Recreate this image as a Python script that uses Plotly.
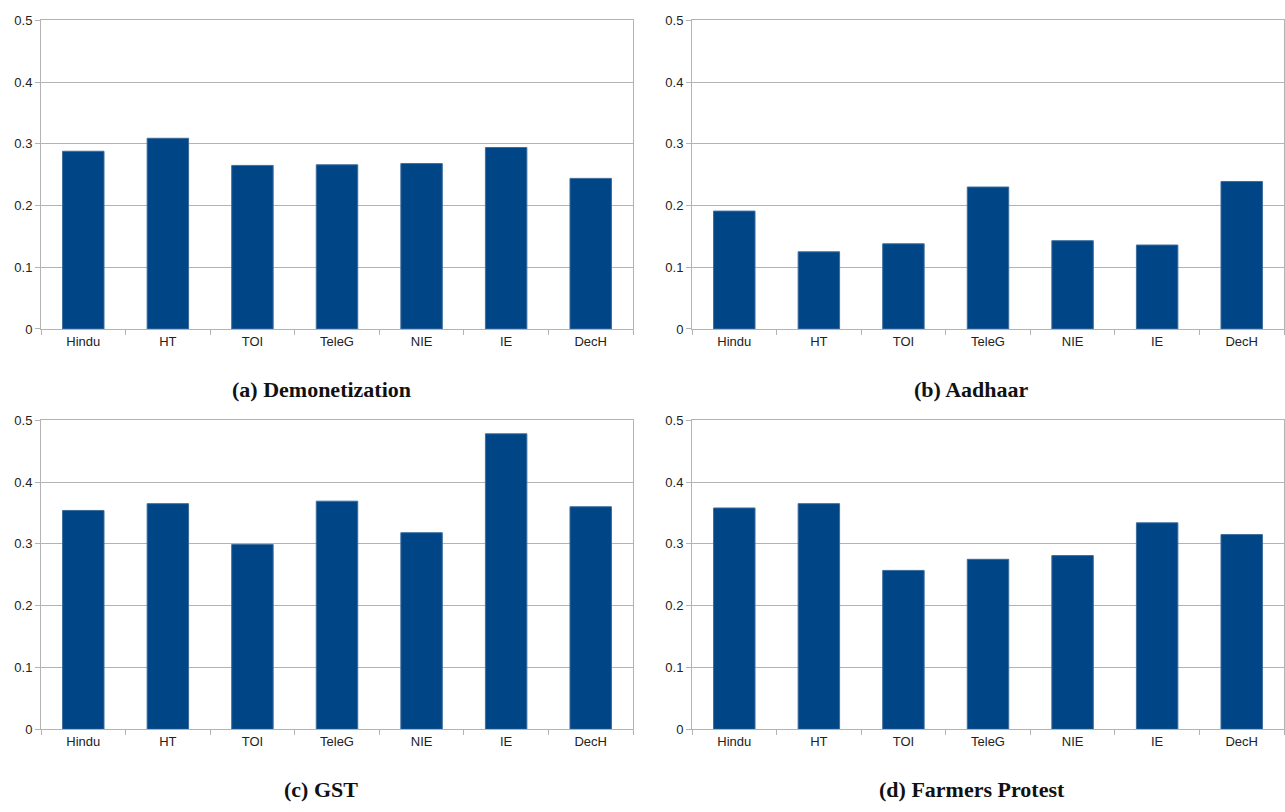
import plotly.graph_objects as go

categories = ["Hindu", "HT", "TOI", "TeleG", "NIE", "IE", "DecH"]
demonetization = [0.288, 0.309, 0.265, 0.266, 0.268, 0.294, 0.244]
aadhaar = [0.191, 0.125, 0.138, 0.230, 0.143, 0.136, 0.239]
gst = [0.354, 0.365, 0.299, 0.369, 0.318, 0.478, 0.360]
farmers = [0.358, 0.365, 0.257, 0.275, 0.281, 0.334, 0.315]
titles = ["(a) Demonetization", "(b) Aadhaar", "(c) GST", "(d) Farmers Protest"]
y_ticks = [0, 0.1, 0.2, 0.3, 0.4, 0.5]
y_ticklabels = ["0", "0.1", "0.2", "0.3", "0.4", "0.5"]

W, H = 1285, 796
OFF = 8  # vertical page offset observed in rendering
series = [demonetization, aadhaar, gst, farmers]
# target pixel boxes on screen (left, right, top, bottom)
boxes = [(41, 633, 13.5, 328), (692, 1284, 13.5, 328),
         (41, 633, 421, 736), (692, 1284, 421, 736)]
title_pos = [(321, 390), (971, 390), (321, 797), (972, 797)]

fig = go.Figure()
grid = "#b3b3b3"
for i, (vals, box) in enumerate(zip(series, boxes)):
    n = i + 1
    xa = "x" if n == 1 else f"x{n}"
    ya = "y" if n == 1 else f"y{n}"
    fig.add_trace(go.Bar(x=categories, y=vals, xaxis=xa, yaxis=ya,
                         marker=dict(color="#004586", line=dict(color="#3d6c9c", width=1)),
                         showlegend=False))
    l, r, t, b = box
    t -= OFF
    b -= OFF
    xkey = "xaxis" if n == 1 else f"xaxis{n}"
    ykey = "yaxis" if n == 1 else f"yaxis{n}"
    fig.layout[xkey] = dict(domain=[l / W, r / W], anchor=ya,
                            showline=True, linecolor=grid, linewidth=1, mirror=True,
                            ticks="outside", tickson="boundaries", ticklen=5,
                            tickcolor=grid, showgrid=False,
                            tickfont=dict(family="Liberation Sans", size=13, color="#222"),
                            fixedrange=True)
    fig.layout[ykey] = dict(domain=[1 - b / H, 1 - t / H], anchor=xa,
                            range=[0, 0.5], tickvals=y_ticks, ticktext=y_ticklabels,
                            showline=True, linecolor=grid, linewidth=1, mirror=True,
                            ticks="outside", ticklen=5, tickcolor=grid,
                            showgrid=True, gridcolor=grid, gridwidth=1,
                            zeroline=False,
                            tickfont=dict(family="Liberation Sans", size=13, color="#222"),
                            fixedrange=True)

for (tx, ty), text in zip(title_pos, titles):
    fig.add_annotation(x=tx / W, y=1 - (ty - OFF) / H, xref="paper", yref="paper",
                       text=f"<b>{text}</b>", showarrow=False,
                       font=dict(family="Liberation Serif", size=22, color="#111"),
                       xanchor="center", yanchor="middle")

fig.update_layout(width=W, height=H, margin=dict(l=0, r=0, t=0, b=0),
                  bargap=0.51, plot_bgcolor="white", paper_bgcolor="white")
post = (
    "document.body.style.marginLeft='0';"
    "document.body.style.marginRight='0';"
)
fig.write_html("out.html", config={"displayModeBar": False}, post_script=post)
